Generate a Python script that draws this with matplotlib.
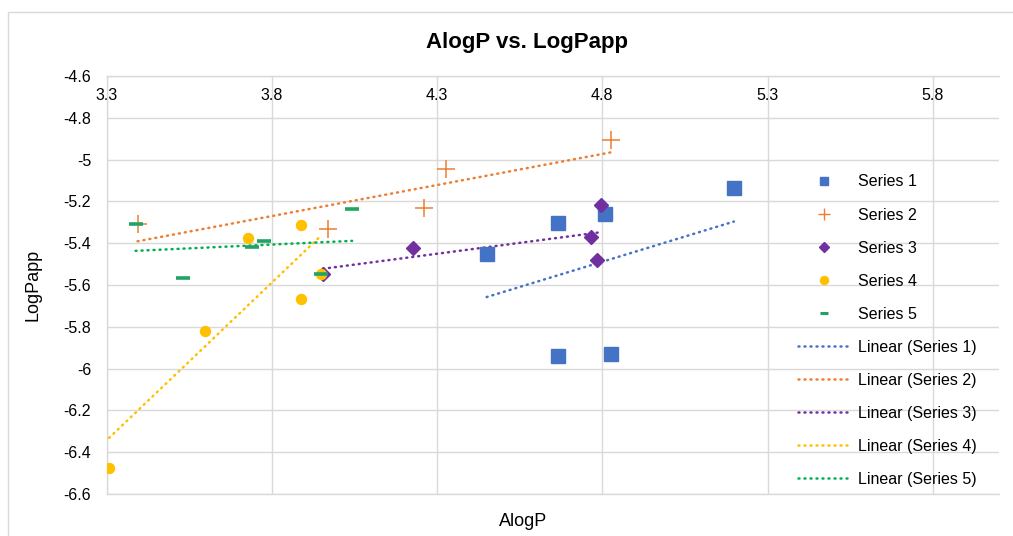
import numpy as np
import matplotlib
matplotlib.use("Agg")
import matplotlib.pyplot as plt
from matplotlib.patches import Rectangle

plt.rcParams["font.family"] = ["Liberation Sans", "DejaVu Sans"]

# AlogP / LogPapp pairs for each series
s1_x = [4.450, 4.666, 4.809, 5.198, 4.666, 4.827]
s1_y = [-5.452, -5.303, -5.258, -5.136, -5.941, -5.931]

s2_x = [3.394, 3.969, 4.328, 4.259, 4.827]
s2_y = [-5.310, -5.331, -5.044, -5.231, -4.907]

s3_x = [3.955, 4.227, 4.795, 4.765, 4.783]
s3_y = [-5.548, -5.424, -5.219, -5.370, -5.478]

s4_x = [3.308, 3.598, 3.889, 3.727, 3.888, 3.950]
s4_y = [-6.477, -5.821, -5.665, -5.377, -5.312, -5.545]

s5_x = [3.388, 3.530, 3.740, 3.777, 4.043, 3.950]
s5_y = [-5.309, -5.566, -5.419, -5.390, -5.234, -5.548]

series_names = ["Series 1", "Series 2", "Series 3", "Series 4", "Series 5"]
x_ticks = [3.3, 3.8, 4.3, 4.8, 5.3, 5.8]
y_ticks = [-4.6, -4.8, -5.0, -5.2, -5.4, -5.6, -5.8, -6.0, -6.2, -6.4, -6.6]
y_tick_labels = ["-4.6", "-4.8", "-5", "-5.2", "-5.4", "-5.6", "-5.8", "-6", "-6.2", "-6.4", "-6.6"]

xs = [s1_x, s2_x, s3_x, s4_x, s5_x]
ys = [s1_y, s2_y, s3_y, s4_y, s5_y]

marker_colors = ["#4472C4", "#ED7D31", "#7030A0", "#FFC000", "#21A366"]
line_colors = ["#4472C4", "#ED7D31", "#7030A0", "#FFC000", "#00B050"]
marker_styles = [
    dict(marker="s", markersize=9.8),
    dict(marker="+", markersize=13.5, markeredgewidth=1.1),
    dict(marker="D", markersize=6.8),
    dict(marker="o", markersize=7.2),
    dict(marker="_", markersize=10, markeredgewidth=2.6),
]
# smaller marker glyphs used inside the legend
legend_marker_sizes = [5.8, 8.0, 4.6, 5.8, 6.0]
legend_marker_widths = [1.0, 1.0, 1.0, 1.0, 2.2]

W, H = 1013, 536
fig = plt.figure(figsize=(W / 100, H / 100), dpi=100)
fig.patch.set_facecolor("white")

# chart border
fig.patches.append(Rectangle((8 / W, -0.1), 1.2, 1.1 - 12 / H, transform=fig.transFigure,
                             fill=False, edgecolor="#D9D9D9", linewidth=1.0))

ax = fig.add_axes([106.5 / W, 1 - 494 / H, (999 - 106.5) / W, (494 - 76) / H])
ax.set_xlim(3.3, 6.0)
ax.set_ylim(-6.6, -4.6)

grid_c = "#D9D9D9"
ax.set_xticks(x_ticks)
ax.set_xticklabels([f"{v:.1f}" for v in x_ticks])
ax.set_yticks(y_ticks)
ax.set_yticklabels(y_tick_labels)
ax.grid(True, color=grid_c, linewidth=1.0)
ax.set_axisbelow(True)
for side in ["left", "top", "bottom"]:
    ax.spines[side].set_color(grid_c)
    ax.spines[side].set_linewidth(1.0)
ax.spines["right"].set_visible(False)

ax.tick_params(axis="x", bottom=False, labelbottom=False, top=False, labeltop=True,
               length=0, pad=-19.4, labelsize=11.5, labelcolor="#000000")
ax.tick_params(axis="y", left=False, length=0, pad=11, labelsize=11.5, labelcolor="#000000")

handles_m = []
for i in range(5):
    h, = ax.plot(xs[i], ys[i], linestyle="none", color=marker_colors[i],
                 markeredgecolor=marker_colors[i], label=series_names[i],
                 zorder=4 + i, **marker_styles[i])
    handles_m.append(h)

handles_l = []
for i in range(5):
    x = np.array(xs[i])
    y = np.array(ys[i])
    k, b = np.polyfit(x, y, 1)
    xx = np.array([x.min(), x.max()])
    h, = ax.plot(xx, k * xx + b, color=line_colors[i], linewidth=1.8,
                 dashes=(0.4, 2.0), dash_capstyle="round",
                 label=f"Linear ({series_names[i]})", zorder=3)
    handles_l.append(h)

leg = ax.legend(handles_m + handles_l, [h.get_label() for h in handles_m + handles_l],
                loc="upper left",
                bbox_to_anchor=((798 - 106.5) / (999 - 106.5), (494 - 174.5) / (494 - 76)),
                frameon=False, fontsize=11.5, labelspacing=1.13, handlelength=3.3,
                handletextpad=0.45, borderaxespad=0, borderpad=0)
for i, lh in enumerate(leg.legend_handles[:5]):
    lh.set_markersize(legend_marker_sizes[i])
    lh.set_markeredgewidth(legend_marker_widths[i])

fig.text(527 / W, 1 - 42 / H, "AlogP vs. LogPapp", ha="center", va="center",
         fontsize=16, fontweight="bold")
fig.text(523 / W, 1 - 522 / H, "AlogP", ha="center", va="center", fontsize=13)
fig.text(33 / W, 1 - 285 / H, "LogPapp", ha="center", va="center", rotation=90, fontsize=13)

fig.savefig("out.png", dpi=100, facecolor="white")
